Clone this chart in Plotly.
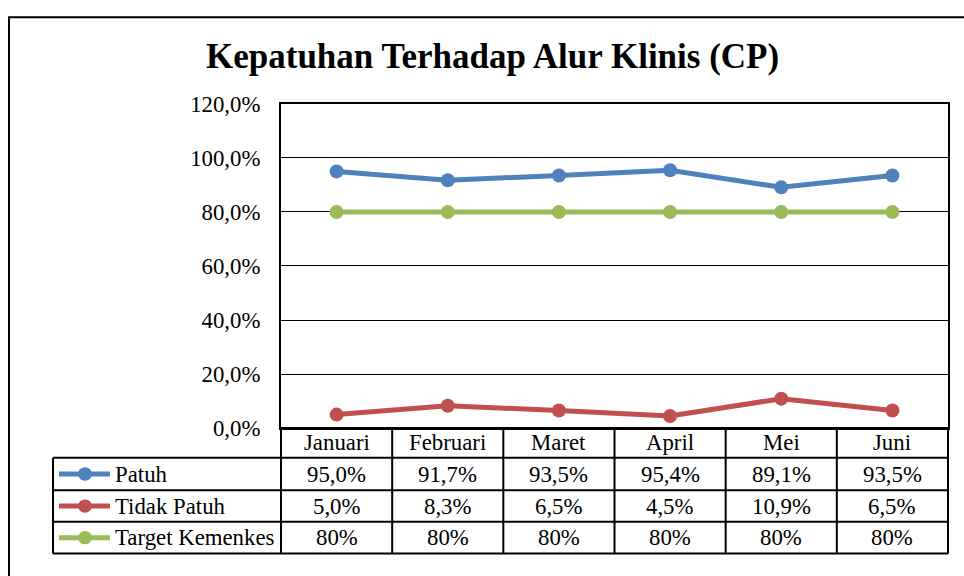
import plotly.graph_objects as go

# ---- data ----
categories = ["Januari", "Februari", "Maret", "April", "Mei", "Juni"]
series_names = ["Patuh", "Tidak Patuh", "Target Kemenkes"]
patuh = [0.950, 0.917, 0.935, 0.954, 0.891, 0.935]
tidak_patuh = [0.050, 0.083, 0.065, 0.045, 0.109, 0.065]
target = [0.80, 0.80, 0.80, 0.80, 0.80, 0.80]
title_text = "Kepatuhan Terhadap Alur Klinis (CP)"

colors = ["#4F81BD", "#C0504D", "#9BBB59"]
series_vals = [patuh, tidak_patuh, target]
series_fmt = ["{:.1%}", "{:.1%}", "{:.0%}"]

W, H = 964, 576
FONT = "Liberation Serif"
FS = 22.8

def px(x):
    return x / W

def py(y):
    return 1 - y / H

# layout geometry (window pixels)
PL, PR, PT, PB = 281, 948, 96, 435
TL = 53
row_lines = [435, 466, 500, 533, 566]

fig = go.Figure()
for name, vals, c in zip(series_names, series_vals, colors):
    fig.add_trace(go.Scatter(
        x=categories, y=vals, name=name, mode="lines+markers",
        line=dict(color=c, width=5), marker=dict(color=c, size=14),
        cliponaxis=False, showlegend=False, hoverinfo="skip"))

shapes = []
annotations = []
lw = 2
# outer chart border (continues past right and bottom edges)
shapes.append(dict(type="rect", xref="paper", yref="paper", x0=px(9), x1=px(1000),
                   y0=py(5.5), y1=py(620), line=dict(color="black", width=2)))
# table horizontal lines
ncat = len(categories)
cw = (PR - PL) / ncat
for i, yy in enumerate(row_lines):
    x0 = PL if i == 0 else TL
    shapes.append(dict(type="line", xref="paper", yref="paper", x0=px(x0), x1=px(PR),
                       y0=py(yy), y1=py(yy), line=dict(color="black", width=lw)))
# table vertical lines
for j in range(ncat + 1):
    xx = PL + j * cw
    shapes.append(dict(type="line", xref="paper", yref="paper", x0=px(xx), x1=px(xx),
                       y0=py(row_lines[0]), y1=py(row_lines[-1]), line=dict(color="black", width=lw)))
shapes.append(dict(type="line", xref="paper", yref="paper", x0=px(TL), x1=px(TL),
                   y0=py(row_lines[1]), y1=py(row_lines[-1]), line=dict(color="black", width=lw)))

# header
for j, cat in enumerate(categories):
    annotations.append(dict(x=px(PL + (j + 0.5) * cw), y=py((row_lines[0] + row_lines[1]) / 2),
                            xref="paper", yref="paper", text=cat, showarrow=False,
                            font=dict(family=FONT, size=FS, color="black"),
                            xanchor="center", yanchor="middle"))
# rows
for r, (name, vals, c, fmt) in enumerate(zip(series_names, series_vals, colors, series_fmt)):
    yc = (row_lines[r + 1] + row_lines[r + 2]) / 2
    shapes.append(dict(type="line", xref="paper", yref="paper", x0=px(59), x1=px(110),
                       y0=py(yc), y1=py(yc), line=dict(color=c, width=5)))
    shapes.append(dict(type="circle", xref="paper", yref="paper", x0=px(85 - 7), x1=px(85 + 7),
                       y0=py(yc - 7), y1=py(yc + 7), fillcolor=c, line=dict(color=c, width=0)))
    annotations.append(dict(x=px(113), y=py(yc), xref="paper", yref="paper", text=name,
                            showarrow=False, font=dict(family=FONT, size=FS, color="black"),
                            xanchor="left", yanchor="middle"))
    for j, v in enumerate(vals):
        annotations.append(dict(x=px(PL + (j + 0.5) * cw), y=py(yc), xref="paper", yref="paper",
                                text=fmt.format(v).replace(".", ","), showarrow=False,
                                font=dict(family=FONT, size=FS, color="black"),
                                xanchor="center", yanchor="middle"))
# title
annotations.append(dict(x=px(493), y=py(47), xref="paper", yref="paper", text="<b>" + title_text + "</b>",
                        showarrow=False, font=dict(family=FONT, size=35, color="black"),
                        xanchor="center", yanchor="middle"))

fig.update_layout(
    width=W, height=H, margin=dict(l=0, r=0, t=0, b=0),
    paper_bgcolor="white", plot_bgcolor="white",
    separators=",.", hovermode=False,
    shapes=shapes, annotations=annotations,
    xaxis=dict(domain=[px(PL), px(PR)], range=[-0.5, ncat - 0.5], showticklabels=False,
               showgrid=False, zeroline=False, showline=True, mirror=True,
               linecolor="black", linewidth=2, ticks=""),
    yaxis=dict(domain=[py(PB), py(PT)], range=[0, 1.2], dtick=0.2, tickformat=".1%",
               showgrid=True, gridcolor="black", gridwidth=1, zeroline=False,
               showline=True, mirror=True, linecolor="black", linewidth=2, ticks="",
               tickfont=dict(family=FONT, size=FS, color="black"), ticklabelstandoff=14),
)

fig.write_html("out.html", config={"displayModeBar": False},
               post_script="document.body.style.margin='0';document.body.style.overflow='hidden';")
